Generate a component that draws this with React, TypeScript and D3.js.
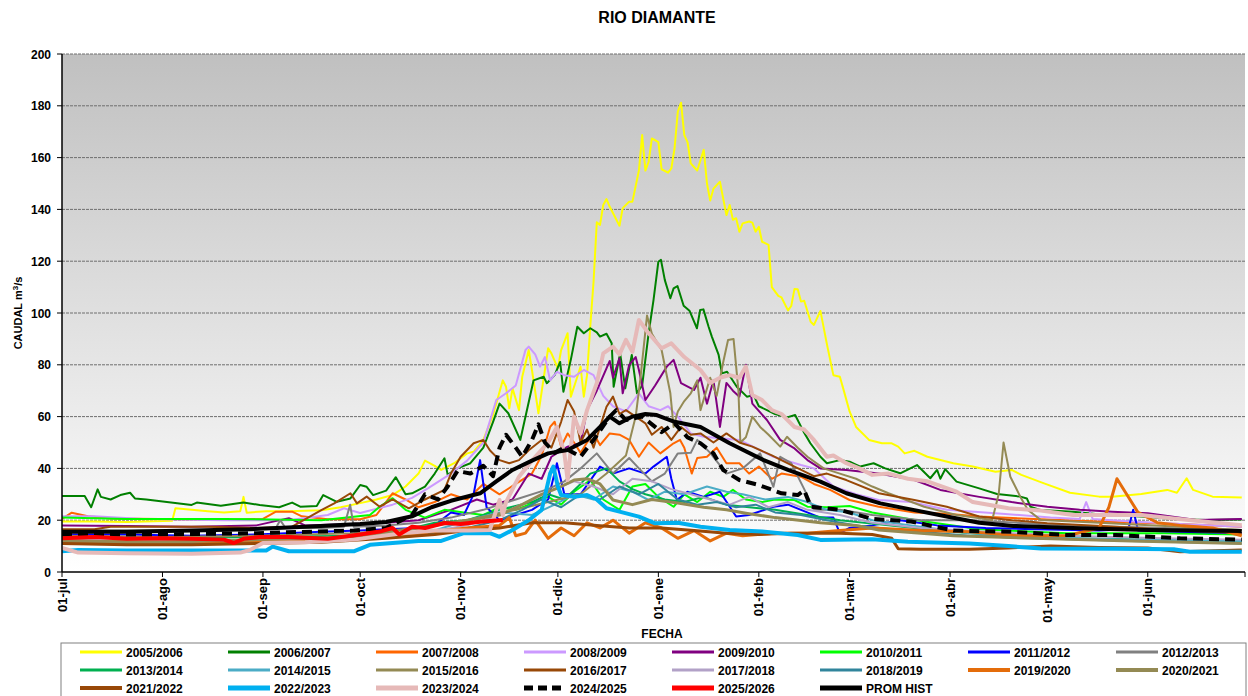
import React from "react";
import * as d3 from "d3";

type Pt = [number, number];

// dia del año hidrologico (0 = 01-jul) , caudal m3/s
const MONTH_LABELS = ["01-jul", "01-ago", "01-sep", "01-oct", "01-nov", "01-dic", "01-ene", "01-feb", "01-mar", "01-abr", "01-may", "01-jun"];
const MONTH_DAYS = [0, 31, 62, 92, 123, 153, 184, 215, 243, 274, 304, 335];
const Y_TICKS = [0, 20, 40, 60, 80, 100, 120, 140, 160, 180, 200];

const S2005: Pt[] = [[0,19.5],[10,19.5],[20,19.3],[34,19.8],[35,24.6],[40,24],[45,23.5],[50,23],[55,23.5],[56,29],[57,22.9],[63,23.5],[70,23.5],[80,23.8],[86,25],[92,26.6],[97,28],[102,29.7],[106,33],[110,38],[112,43],[115,41],[117,39.4],[121,42],[125,45.8],[127,46.4],[130,51],[133,60.6],[136,74],[137,71.5],[138,63.2],[139,70.9],[141,62.5],[142,75.4],[144,85.7],[145,78],[147,61.3],[150,86.4],[151,84.4],[153,78.6],[154,85.7],[156,92.2],[157,67.7],[159,75.4],[160,79.3],[161,67.7],[162,76],[163,95],[164,112],[165,135],[166,134],[167,141.7],[168,144],[169,141],[172,133.7],[173,140.5],[175,143],[176,143],[178,155],[179,168.7],[180,155],[181,158.4],[182,167.4],[184,166],[185,155.5],[187,154.2],[188,155.8],[189,163.6],[190,177.7],[191,181.2],[192,168.7],[193,166],[194,157.8],[196,155],[198,163],[199,150],[200,143.4],[201,148],[203,150.7],[205,137.8],[206,141.7],[207,136],[208,136.6],[209,131.4],[210,134.6],[212,135.3],[213,134.9],[214,131.4],[215,133.3],[216,127.5],[218,126.3],[219,110],[221,106.6],[222,106],[224,101],[225,102.7],[226,109.3],[227,109.2],[228,104.4],[229,104.7],[231,96.6],[232,95.4],[234,100.8],[236,88],[238,76],[240,75.4],[241,71],[243,62],[245,56],[249,51],[253,49.7],[256,49.7],[258,48.4],[260,45.8],[263,46.8],[267,44.5],[275,42],[281,40.7],[288,38.7],[293,39.4],[296,37.5],[303,34.2],[311,30.6],[320,29.1],[324,29.1],[333,30.1],[341,31.7],[344,30.6],[347,36.2],[349,31.7],[355,29.1],[364,28.8]];
const S2006: Pt[] = [[0,29.3],[7,29.3],[9,25],[11,31.9],[12,29],[15,28],[18,29.7],[21,30.6],[22.5,28.4],[26,28],[33,26.9],[40,25.9],[41.6,26.8],[49,25.6],[56,26.8],[61,25.9],[67,25],[71,26.8],[73.5,25.2],[78.6,25.5],[80.6,29.7],[84.8,27.1],[89,28.4],[92,33.6],[94,32.9],[96,29.7],[100,31.4],[103,36.6],[106,30],[108,30.4],[112,33],[115,38],[118,43.9],[119,37.5],[122,40],[126,42],[130,48],[133,58],[135,65],[137.7,61.3],[141.4,51],[145.5,74],[148.6,75.4],[149.6,72.9],[152,76],[153.7,81.1],[154.7,69.6],[157,82],[159,94.7],[161,92.2],[163,94.1],[165,92.5],[166,90.9],[168,92],[169.6,88.3],[170.2,71.5],[172.2,84.4],[173.8,70.9],[175.8,83.8],[177.4,69],[179,72],[181,92.2],[182.5,105],[184,119.8],[184.8,120.5],[186,112.7],[187.7,105.7],[188.7,109.5],[189.9,110.4],[191.8,102.8],[193.6,100.9],[195.9,94.1],[196.9,101.2],[197.9,101.4],[199.5,94.7],[200.5,90.9],[202.6,83.8],[203.6,76.7],[205.2,77.3],[208.2,71.5],[211.3,67.7],[213.4,68.3],[215,64],[217.5,62.5],[220,61],[223.7,59.7],[226.2,60.6],[228.8,54.2],[230.9,49.7],[234,44.5],[236,42],[240,43.2],[243,42.6],[246.3,40.7],[250.4,42],[254,40],[258.6,38.1],[263.8,41.3],[267.9,36.2],[270,39.4],[271,36],[272.5,39.7],[276,34.9],[283,32.3],[288.5,30.1],[295.7,29.1],[297.7,28.4],[298.8,25.2],[302,23.9],[312,23.3],[322,22],[333,21.4],[343,20.5],[353,20.1],[364,20.3]];
const S2007: Pt[] = [[0,20.5],[3,22.9],[8,21.5],[15,20.7],[30,20.5],[50,20.1],[62,20.5],[66,23.3],[71,23.3],[74,21.5],[82,20.4],[92,20.4],[97,22],[102,30.4],[106,28],[110,25],[115,27],[120,30],[125,28],[130,34],[135,30],[140,34],[145,38],[148,45],[150.6,56],[152,58],[154,48.4],[156,53.5],[158,50],[160,46],[162,50],[164,53.5],[166,49],[169,53.5],[172,53],[175,51],[178,44.5],[181,50],[184.6,45.8],[188.7,49.7],[190.7,51],[192,48],[194.3,38],[196,44],[199,44.5],[202,48],[205,42],[209,42],[212,38],[215,40.7],[219,36],[222,38],[228,36.8],[232,34],[237,31.7],[243,27.8],[252,25.2],[263,23],[273,22.5],[283,21.4],[300,20.5],[320,19.5],[345,18.5],[364,17.5]];
const S2008: Pt[] = [[0,21.5],[10,21.5],[25,20.5],[50,20],[70,20],[82,22],[87,24.6],[92,22.8],[102,26],[108,28.6],[113,32.4],[120,38],[125,43],[130,50],[134,66.4],[137,69],[140,72],[143,85.7],[144,87],[146,84],[147.5,79.3],[149,83],[150.6,74],[152.7,77.3],[155,76],[158,75.4],[161,78],[164,76],[167,68],[170,64],[174,62],[178,69],[181,64],[184.6,62.5],[187,64],[190,60],[194,53.5],[198,52.2],[209,51],[219.5,44.5],[228,41.3],[232,40],[238,33],[245,30],[252,27.8],[262,27],[273,24],[290,22.5],[305,21],[314,20.5],[316,27],[318,20.5],[330,19.5],[345,18.5],[364,17.5]];
const S2009: Pt[] = [[0,18],[20,17.8],[40,17.5],[60,18],[70,20.8],[75,18],[90,18.5],[100,19],[110,20],[120,24],[128,28],[133,26],[139,28],[144,38],[148,36],[151,44.5],[156,48.4],[160,49.7],[162,62.5],[165,70],[169,81.5],[170,75],[172,82.5],[173,69],[175,80],[177,83],[178,78],[180,66.4],[183,72],[186.6,79.3],[188.7,81.9],[191,72.9],[195,70.3],[197,75],[199,65],[201,74],[203,56],[205,73],[207,70],[209,67.7],[211,80],[213,65],[217.5,58.7],[221.6,51],[226,47.7],[230,43.2],[234,40],[242,39.4],[252,38],[263,35.5],[271,31.7],[283,29],[293,27],[304,25.2],[314,24],[324,23.3],[335,22.7],[350,20.1],[364,20.5]];
const S2010: Pt[] = [[0,21],[20,20.5],[50,20.5],[80,20],[95,22],[98,25.2],[102,28.5],[106,24],[112,21],[118,24],[124,23],[130,22],[135,25],[140,24],[146,27],[150,29],[154,26],[158,31],[163,35.5],[167,28],[172,24],[176,33],[180,34],[184,29],[188.7,25.2],[192,30],[196,27],[200,31],[204,29],[207,31.7],[211,28],[216,27],[220,28],[226,27.8],[230,25.2],[236,25],[243,25.5],[250,23],[263,20.1],[283,16.5],[310,15],[340,15],[364,14.5]];
const S2011: Pt[] = [[0,14.5],[20,14.5],[40,14],[60,14.5],[80,15.5],[92,16],[100,16.5],[110,17],[116,19],[120,23],[124,22],[127,30],[129,43.2],[131,25],[135,20],[140,22],[145,24],[150,28],[152.7,42],[155,30],[160,30],[166,40.7],[170,38],[175,40],[180,38],[182.5,40.7],[186.6,44.5],[188,36],[189.7,27.8],[193,31],[198,29],[203,31],[208,21.4],[212,22],[219.5,25.2],[224,26],[228,24],[234,21],[238,21],[240,15],[243,17],[250,18],[258.6,20],[270,18],[285,17],[300,16.5],[320,16],[329,16.5],[330.5,24],[332,16],[345,15.5],[364,15]];
const S2012: Pt[] = [[0,16],[20,16],[40,16],[60,16.5],[66,17],[67.3,20],[69,17],[80,17],[87,17.5],[88.9,26],[90,17.5],[100,18],[110,19],[120,21],[130,24],[140,28],[150,32],[155,35],[160,40],[165,45.8],[170,38],[175,44],[178,40],[182,35],[186,38],[190,45.8],[194,46],[196,51],[200,46],[205,38],[210,40],[215.4,45.8],[219.5,32.9],[221.6,44.5],[225,42],[229,32],[232,24],[240,24],[250,22],[265,20],[280,20],[310,18],[340,17],[364,16.2]];
const S2013: Pt[] = [[0,13.5],[30,13],[60,13.5],[90,14],[105,16],[115,19],[125,20],[135,24],[145,27],[150,30],[155,28],[160,34],[163,38],[168,40],[172,35],[176,32],[180,30],[186,28],[192,27],[198,29],[205,26],[212,25],[220,24],[230,22],[240,20],[255,18],[270,16],[290,14],[310,13],[340,12.5],[364,12]];
const S2014: Pt[] = [[0,12],[30,11.5],[60,12],[90,13],[105,14],[115,16],[125,20],[135,23],[145,22],[152,26],[158,30],[164,28],[170,33],[176,31],[181,27.8],[186,31],[192,30],[199,33],[205,31],[210,30],[217,28],[224,29],[230,27],[236,24],[243,23],[250,20],[262,18],[280,15],[300,13.5],[330,12.5],[364,12]];
const S2015: Pt[] = [[0,14],[30,13.5],[60,14],[90,15],[110,17],[125,20],[140,24],[150,27],[160,30],[168,38],[174,45],[177,60],[178.4,74],[180.5,99],[182,92],[185,85.7],[187.7,69],[188.7,56],[190,62],[192,66],[194,69],[196,74],[197,62.5],[200,75],[202,68],[204,81],[205.5,89.6],[207.2,90],[208.7,70],[209.3,50],[211,52],[213,60],[215.4,56],[218,53],[221.6,48.4],[223.7,52.2],[227,48],[230,44.5],[235,40],[240,38],[245,36],[250,33],[255,30.4],[266,25.2],[276,22],[287,20.1],[289,30],[290.5,50],[292.6,36.8],[295.7,29],[298,24],[302,20.1],[320,19],[345,17.5],[364,16.2]];
const S2016: Pt[] = [[0,16.5],[10,16.5],[15,17.5],[30,17.5],[45,17.5],[60,17],[71,17.5],[80,23.9],[84,26.5],[89,30.4],[91,26.5],[94,29.1],[98,25.2],[102,28],[107,24.6],[112,28],[118,31.7],[120,38],[123,44.5],[127,49.7],[130,51],[132,47],[135,43.2],[138,42],[141,43.2],[144,47],[148,51],[151,48],[154,58],[156,66.4],[158,62],[160,50],[162,55],[164,48],[166,56],[168,63.8],[170,67.7],[172,61],[174,62.5],[177,60],[180,57.4],[182,53],[185,56],[188,51],[191,56],[194,53],[197,53.5],[201,50],[205,53.5],[209,50],[213,48.4],[219,45],[226,40.7],[232,37],[236,38],[242,35.5],[252,30.4],[263,27.8],[273,25.2],[283,21.4],[293,20],[304,18.8],[325,17.5],[345,16],[364,15]];
const S2017: Pt[] = [[0,12.5],[30,12],[60,12.5],[90,13.5],[110,15],[125,18],[135,22],[145,28],[152,32],[158,35],[164,33],[170,30],[176,36],[182,35],[188,32],[194,30],[200,28],[206,26],[212,29],[218,25],[224,27],[230,24],[240,22],[250,19],[265,17],[285,15.5],[310,14],[340,13],[364,12.5]];
const S2018: Pt[] = [[0,11.5],[30,11],[60,11.5],[90,12.5],[110,14],[125,17],[135,20],[142,24],[148,28],[154,25],[160,30],[166,28],[172,33],[178,30],[184,34],[190,28],[196,26],[202,27],[208,25],[214,26],[220,23],[228,22],[236,20],[245,18],[260,16],[280,14],[300,13],[330,12],[364,11]];
const S2019: Pt[] = [[0,12],[30,11.5],[60,12],[90,13],[110,15],[125,17],[135,18],[138,21],[140,14],[143,15],[146,20],[150,13],[154,17],[158,14],[162,19],[166,17],[170,20],[175,15],[180,19],[185,17],[190,13],[195,16],[200,12],[205,15],[210,14],[220,15],[230,15],[240,16],[250,17],[265,16],[280,15.5],[295,14],[310,14],[320,17],[323,25],[325.5,36],[328,31],[332,23],[338,19],[345,18],[355,17],[364,14]];
const S2020: Pt[] = [[0,12],[30,11.5],[60,12.5],[80,13],[95,14],[105,16],[115,18],[125,20],[135,22],[142,26],[148,30],[154,33],[158,35.5],[162,36],[166,34],[170,27.8],[176,26],[182,28],[190,26.6],[198,25],[205,24],[211,22.7],[220,21],[234,19],[245,18],[252,16.2],[275,14],[300,13],[330,12],[364,11]];
const S2021: Pt[] = [[0,11],[20,10.5],[40,10.5],[60,11],[80,11.5],[100,13],[115,14.5],[125,16],[135,17],[145,19],[155,19],[165,18],[175,17],[185,17],[195,16],[205,15],[215,14.5],[225,15],[240,15],[250,14.5],[256,13],[258,9],[265,8.8],[280,8.8],[292,9.3],[305,10],[320,9.5],[335,9.3],[345,7.8],[364,8.5]];
const S2022: Pt[] = [[0,8],[5,8.5],[20,8.3],[40,8.3],[63,8.3],[65,9.8],[70,8],[90,8],[95,10.5],[100,11],[110,12],[117,12],[124,15],[132,15],[135,13.6],[139,16.2],[144,20],[148,24],[150.6,38],[151.6,40.7],[153,33],[154,29.7],[158,29],[162,29.7],[165,28],[168,24.6],[172,23.3],[178,21.4],[183,18.8],[190,19],[197,17.5],[206,16.2],[216,15.6],[227,14.3],[234,12.4],[250,12.6],[261,11.7],[280,11],[292,10],[302,9.1],[325,9],[343,8.8],[348,7.8],[364,7.8]];
const S2023: Pt[] = [[0,9.3],[5,7.5],[20,7.2],[40,7],[55,7.5],[58,8.5],[62,11.2],[75,11.5],[90,12.5],[105,15],[115,16],[125,16],[132,16.2],[135,27.8],[136,22],[137,27],[141,36.8],[145,43],[150,50],[152.7,56],[155,45.8],[156,35.5],[158,60],[160,53.5],[162,62.5],[165,72.9],[167,84.4],[170,87],[172,84],[174,89.6],[176,85],[178,97.3],[181,92.2],[185,86.4],[188,88.3],[192,83],[197,78],[200,73],[203,75],[206,76],[209,75],[211,79.3],[213,68.3],[216,66.4],[219,62.5],[222,61],[226,56],[229,55],[232,51],[236,44.5],[238,45],[242,42],[246,40],[250,37.5],[255,38],[261,36],[267,35],[276,31],[281,27],[292,24.6],[302,23.7],[312,22],[333,22],[343,20.7],[353,19.4],[364,18.1]];
const S2024: Pt[] = [[0,14.5],[30,14.5],[60,15],[90,16],[100,17],[108,22],[112,30],[116,28],[119,33],[122,39],[126,38],[130,41],[133,37],[135,48],[137,53],[140,48],[142,44.5],[145,51],[147,57],[149,50],[152,46],[155,48],[160,44.5],[164,51],[169,60],[171,62.5],[174,58.7],[179,60],[185,54],[189,57.4],[193,52],[197,49.7],[201,45.8],[204,39.4],[209,35.5],[215,33.6],[222,30.4],[227,29.7],[229,31.5],[231,25.2],[240,24],[250,20.5],[262,19.5],[275,16],[293,15.5],[310,14.3],[325,14.3],[345,13],[364,12.5]];
const S2025: Pt[] = [[0,13],[10,13.5],[20,12.8],[30,13],[40,12.8],[50,12.5],[53,11.2],[56,12.8],[61,13.5],[70,13.5],[82,12.8],[88,13.8],[92,14.5],[98,15.6],[102,17],[104,14.5],[108,17.5],[112,17],[118,18.9],[123,18.5],[129,19.4],[136,20.1]];
const PROM: Pt[] = [[0,15.5],[20,15.5],[40,16],[58,16.5],[75,17.5],[92,18.5],[100,19.3],[108,21.5],[114,25],[120,27.5],[129,30.4],[134,35],[139,39.4],[145,43],[150,45.8],[156,47.1],[162,51],[166,56],[169,60],[172,57.4],[176,60],[180,61],[183.5,60.6],[189,58],[197,56],[206,49.7],[216.5,43.2],[224,39.4],[234,34.9],[242,30.4],[252.5,26.5],[263,23.9],[273,21.4],[283,19],[293.5,17.8],[314,16.9],[335,16.2],[364,15.8]];

const SERIES = [
  { name: "2005/2006", data: S2005, color: "#FFFF00", width: 2 },
  { name: "2006/2007", data: S2006, color: "#008000", width: 2 },
  { name: "2007/2008", data: S2007, color: "#FF6600", width: 2 },
  { name: "2008/2009", data: S2008, color: "#CC99FF", width: 2 },
  { name: "2009/2010", data: S2009, color: "#800080", width: 2 },
  { name: "2010/2011", data: S2010, color: "#00FF00", width: 2 },
  { name: "2011/2012", data: S2011, color: "#0000FF", width: 2 },
  { name: "2012/2013", data: S2012, color: "#808080", width: 2 },
  { name: "2013/2014", data: S2013, color: "#00B050", width: 2 },
  { name: "2014/2015", data: S2014, color: "#4BACC6", width: 2 },
  { name: "2015/2016", data: S2015, color: "#948A54", width: 2 },
  { name: "2016/2017", data: S2016, color: "#984807", width: 2 },
  { name: "2017/2018", data: S2017, color: "#B2A1C7", width: 2 },
  { name: "2018/2019", data: S2018, color: "#31859C", width: 2 },
  { name: "2019/2020", data: S2019, color: "#E46C0A", width: 3 },
  { name: "2020/2021", data: S2020, color: "#948A54", width: 3 },
  { name: "2021/2022", data: S2021, color: "#984807", width: 3 },
  { name: "2022/2023", data: S2022, color: "#00B0F0", width: 4 },
  { name: "2023/2024", data: S2023, color: "#E6B9B8", width: 4 },
  { name: "2024/2025", data: S2024, color: "#000000", width: 4, dash: "10,6" },
  { name: "2025/2026", data: S2025, color: "#FF0000", width: 4 },
  { name: "PROM HIST", data: PROM, color: "#000000", width: 4 },
];

const FONT = "'Liberation Sans', Arial, sans-serif";

export default function App() {
  const W = 1248, H = 696;
  const x = d3.scaleLinear().domain([0, 365]).range([62, 1245]);
  const y = d3.scaleLinear().domain([0, 200]).range([572, 54]);
  const line = d3.line<Pt>().x(d => x(d[0])).y(d => y(d[1]));

  const legX = d3.scaleLinear().domain([0, 1]).range([80, 228]);
  const legY = d3.scaleLinear().domain([0, 1]).range([652, 670]);

  return (
    <svg width={W} height={H} style={{ position: "absolute", left: 0, top: 0, display: "block" }} fontFamily={FONT}>
      <defs>
        <linearGradient id="bg" x1="0" y1="0" x2="0" y2="1">
          <stop offset="0%" stopColor="#c0c0c0" />
          <stop offset="100%" stopColor="#ffffff" />
        </linearGradient>
        <clipPath id="plot">
          <rect x={x(0)} y={y(200)} width={x(365) - x(0)} height={y(0) - y(200)} />
        </clipPath>
      </defs>
      <rect width={W} height={H} fill="#fff" />
      <text x={657} y={23} textAnchor="middle" fontSize={16} fontWeight="bold">RIO DIAMANTE</text>

      <rect x={x(0)} y={y(200)} width={x(365) - x(0)} height={y(0) - y(200)} fill="url(#bg)" />
      {Y_TICKS.filter(t => t > 0).map(t => (
        <line key={t} x1={x(0)} x2={x(365)} y1={y(t)} y2={y(t)} stroke="#6e6e6e" strokeWidth={1} strokeDasharray="3,1" />
      ))}

      <g clipPath="url(#plot)" fill="none" strokeLinejoin="round">
        {SERIES.map(s => (
          <path key={s.name} d={line(s.data) || ""} stroke={s.color} strokeWidth={s.width}
            strokeDasharray={s.dash} />
        ))}
      </g>

      {/* ejes */}
      <line x1={x(0)} x2={x(0)} y1={y(0)} y2={y(200)} stroke="#000" strokeWidth={1.5} />
      <line x1={x(0)} x2={x(365)} y1={y(0)} y2={y(0)} stroke="#000" strokeWidth={1.5} />
      {Y_TICKS.map(t => (
        <g key={t}>
          <line x1={x(0) - 5} x2={x(0)} y1={y(t)} y2={y(t)} stroke="#000" />
          <text x={x(0) - 11} y={y(t) + 4.5} textAnchor="end" fontSize={12} fontWeight="bold">{t}</text>
        </g>
      ))}
      {[...MONTH_DAYS, 365].map(d => (
        <line key={d} x1={x(d)} x2={x(d)} y1={y(0)} y2={y(0) + 5} stroke="#000" />
      ))}
      {MONTH_LABELS.map((m, i) => (
        <text key={m} transform={`translate(${x(MONTH_DAYS[i]) + 4.5},${y(0) + 6}) rotate(-90)`}
          textAnchor="end" fontSize={13} fontWeight="bold">{m}</text>
      ))}
      <text x={662} y={638} textAnchor="middle" fontSize={12} fontWeight="bold">FECHA</text>
      <text transform="translate(22,313) rotate(-90)" textAnchor="middle" fontSize={11} fontWeight="bold">
        CAUDAL  m<tspan fontSize={8} dy={-4}>3</tspan><tspan dy={4}>/s</tspan>
      </text>

      {/* leyenda */}
      <rect x={61} y={643} width={1185} height={60} fill="#fff" stroke="#808080" strokeWidth={1} />
      {SERIES.map((s, i) => {
        const cx = legX(i % 8), cy = legY(Math.floor(i / 8));
        return (
          <g key={s.name}>
            <line x1={cx} x2={cx + 42} y1={cy} y2={cy} stroke={s.color} strokeWidth={s.width + 1}
              strokeDasharray={s.dash ? "9,5" : undefined} />
            <text x={cx + 46} y={cy + 4.5} fontSize={12} fontWeight="bold">{s.name}</text>
          </g>
        );
      })}
    </svg>
  );
}
